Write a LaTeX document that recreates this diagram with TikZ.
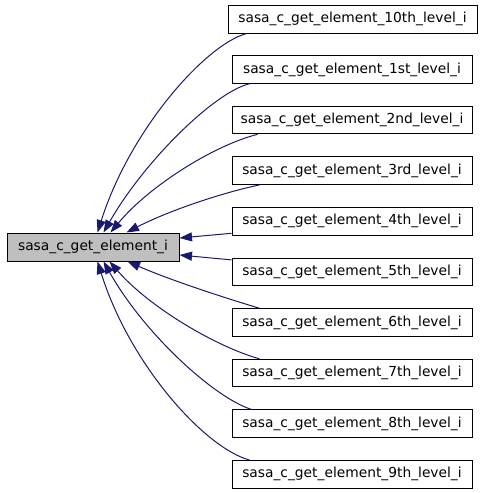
\documentclass[tikz,border=0pt]{standalone}
\usepackage{fontspec}
\setmainfont{DejaVu Sans}
\usetikzlibrary{arrows.meta,calc}
\definecolor{edgeblue}{HTML}{191970}
\definecolor{maingray}{HTML}{BFBFBF}
\tikzset{
  fn/.style={draw=black, line width=1pt, fill=white, inner sep=0pt,
    minimum height=27.5pt, minimum width=240pt,
    font=\fontsize{13.8}{16}\selectfont},
  mainfn/.style={fn, fill=maingray, minimum width=172pt, minimum height=28pt},
  calls/.style={draw=edgeblue, line width=1pt,
    -{Triangle[length=12.5pt,width=9pt,fill=edgeblue]}}
}
\begin{document}
\begin{tikzpicture}[x=1pt,y=-1pt]
\useasboundingbox (0,0) rectangle (483,493);
\node[mainfn] (main) at (93,247) {sasa\_c\_get\_element\_i};
\node[fn, minimum width=249pt, minimum height=28pt] (n10) at (352.5,19) {sasa\_c\_get\_element\_10th\_level\_i};
\node[fn] (n1) at (352,69.5) {sasa\_c\_get\_element\_1st\_level\_i};
\node[fn] (n2) at (352,120.1) {sasa\_c\_get\_element\_2nd\_level\_i};
\node[fn] (n3) at (352,170.7) {sasa\_c\_get\_element\_3rd\_level\_i};
\node[fn] (n4) at (352,221.3) {sasa\_c\_get\_element\_4th\_level\_i};
\node[fn] (n5) at (352,271.9) {sasa\_c\_get\_element\_5th\_level\_i};
\node[fn] (n6) at (352,322.5) {sasa\_c\_get\_element\_6th\_level\_i};
\node[fn] (n7) at (352,373.1) {sasa\_c\_get\_element\_7th\_level\_i};
\node[fn] (n8) at (352,423.7) {sasa\_c\_get\_element\_8th\_level\_i};
\node[fn] (n9) at (352,474.3) {sasa\_c\_get\_element\_9th\_level\_i};

\draw[calls] ($(n10.south west)+(19,0)$) .. controls (205,45) and (130,130) .. ($(main.north west)+(91,0)$);
\draw[calls] ($(n1.south west)+(18,0)$) .. controls (215,92) and (145,160) .. ($(main.north west)+(97,0)$);
\draw[calls] ($(n2.south west)+(26,0)$) .. controls (215,145) and (150,185) .. ($(main.north west)+(104,0)$);
\draw[calls] ($(n3.south west)+(28,0)$) .. controls (225,192) and (170,210) .. ($(main.north west)+(120,0)$);
\draw[calls] ($(n4.west)+(0,12)$) -- ($(main.east)+(0,-9)$);
\draw[calls] ($(n5.west)+(0,-12)$) -- ($(main.east)+(0,8)$);
\draw[calls] ($(n6.north west)+(28,0)$) .. controls (225,298) and (170,280) .. ($(main.south west)+(121,0)$);
\draw[calls] ($(n7.north west)+(28,0)$) .. controls (217,347) and (150,308) .. ($(main.south west)+(103,0)$);
\draw[calls] ($(n8.north west)+(20,0)$) .. controls (215,398) and (145,335) .. ($(main.south west)+(97,0)$);
\draw[calls] ($(n9.north west)+(18,0)$) .. controls (205,448) and (130,365) .. ($(main.south west)+(91,0)$);
\end{tikzpicture}
\end{document}
